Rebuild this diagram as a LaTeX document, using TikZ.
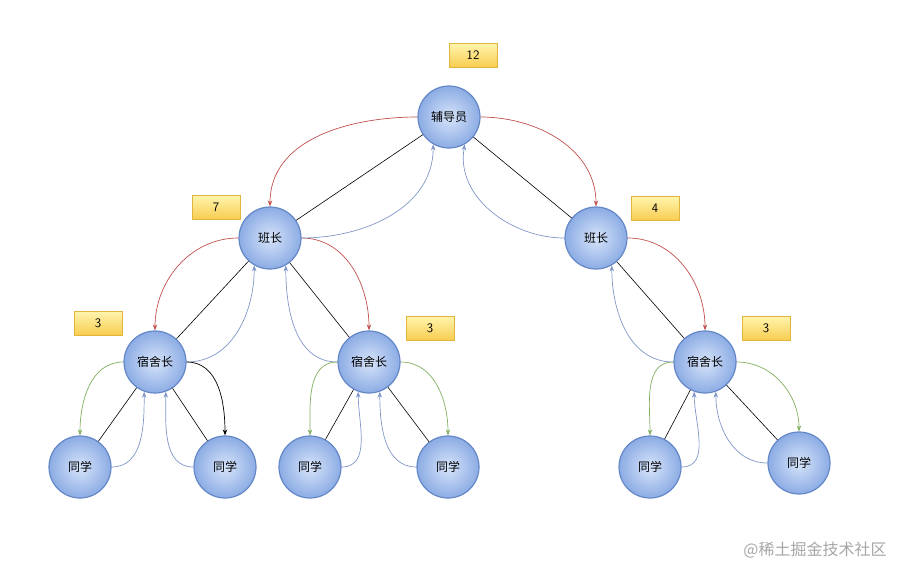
\documentclass[tikz,border=0pt]{standalone}
\usepackage{fontspec}
\newfontfamily\cjk{Noto Sans CJK SC}
\usetikzlibrary{arrows.meta}
\definecolor{redc}{HTML}{C0504D}
\definecolor{bluec}{HTML}{8096C8}
\definecolor{greenc}{HTML}{7FAF5F}
\tikzset{
 circ/.style={circle,minimum size=62pt,inner sep=0pt,draw={rgb,255:red,100;green,135;blue,200},line width=1.2pt,
   inner color={rgb,255:red,215;green,228;blue,250},outer color={rgb,255:red,140;green,172;blue,228},font=\cjk\fontsize{12pt}{14pt}\selectfont},
 lab/.style={rectangle,minimum width=48pt,minimum height=24pt,draw={rgb,255:red,225;green,180;blue,60},
   top color={rgb,255:red,255;green,245;blue,175},bottom color={rgb,255:red,248;green,205;blue,80},font=\sffamily\fontsize{13pt}{14pt}\selectfont},
 tree/.style={black,line width=0.6pt},
 red/.style={redc,line width=0.7pt,-{Stealth[length=6pt]}},
 blu/.style={bluec,line width=0.7pt,-{Stealth[length=6pt]}},
 grn/.style={greenc,line width=0.7pt,-{Stealth[length=6pt]}},
 blk/.style={black,line width=0.7pt,-{Stealth[length=6pt]}},
}
\begin{document}
\begin{tikzpicture}[x=1pt,y=-1pt]
\useasboundingbox (0,0) rectangle (913,579);
\node[circ] (R) at (449,117) {辅导员};
\node[circ] (B1) at (270,238) {班长};
\node[circ] (B2) at (596,238) {班长};
\node[circ] (S1) at (155,362) {宿舍长};
\node[circ] (S2) at (369,362) {宿舍长};
\node[circ] (S3) at (705,362) {宿舍长};
\node[circ] (L1) at (80,467) {同学};
\node[circ] (L2) at (225,467) {同学};
\node[circ] (L3) at (310,467) {同学};
\node[circ] (L4) at (448,467) {同学};
\node[circ] (L5) at (650,467) {同学};
\node[circ] (L6) at (799,463) {同学};
\node[lab] (t1) at (473,55) {12};
\node[lab] (t2) at (216,207) {7};
\node[lab] (t3) at (655,208) {4};
\node[lab] (t4) at (98,323) {3};
\node[lab] (t5) at (430,328) {3};
\node[lab] (t6) at (766,328) {3};
\node[gray!70,font=\cjk\fontsize{16pt}{18pt}\selectfont] (wm) at (815,550) {@稀土掘金技术社区};
% tree lines
\foreach \a/\b in {R/B1,R/B2,B1/S1,B1/S2,B2/S3,S1/L1,S1/L2,S2/L3,S2/L4,S3/L5,S3/L6}
  \draw[tree] (\a) -- (\b);
% red
\draw[red] (R.west) to[out=180,in=90] (B1.north);
\draw[red] (R.east) to[out=0,in=90] (B2.north);
\draw[red] (B1.west) to[out=180,in=90] (S1.north);
\draw[red] (B1.east) to[out=0,in=90] (S2.north);
\draw[red] (B2.east) to[out=0,in=90] (S3.north);
% blue up
\draw[blu] (B1.east) to[out=0,in=-90] (R.-120);
\draw[blu] (B2.west) to[out=180,in=-100] (R.-60);
\draw[blu] (S1.east) to[out=0,in=-90] (B1.-120);
\draw[blu] (S2.west) to[out=180,in=-90] (B1.-60);
\draw[blu] (S3.west) to[out=180,in=-90] (B2.-60);
\draw[blu] (L1.east) to[out=0,in=-90] (S1.-110);
\draw[blu] (L2.west) to[out=180,in=-90] (S1.-70);
\draw[blu] (L3.east) to[out=0,in=-90] (S2.-110);
\draw[blu] (L4.west) to[out=180,in=-90] (S2.-70);
\draw[blu] (L5.east) to[out=0,in=-90] (S3.-110);
\draw[blu] (L6.west) to[out=180,in=-90] (S3.-70);
% green down
\draw[grn] (S1.west) to[out=180,in=90] (L1.north);
\draw[blk] (S1.east) to[out=0,in=90] (L2.north);
\draw[grn] (S2.west) to[out=180,in=90] (L3.north);
\draw[grn] (S2.east) to[out=0,in=90] (L4.north);
\draw[grn] (S3.west) to[out=180,in=90] (L5.north);
\draw[grn] (S3.east) to[out=0,in=90] (L6.north);
\end{tikzpicture}
\end{document}
